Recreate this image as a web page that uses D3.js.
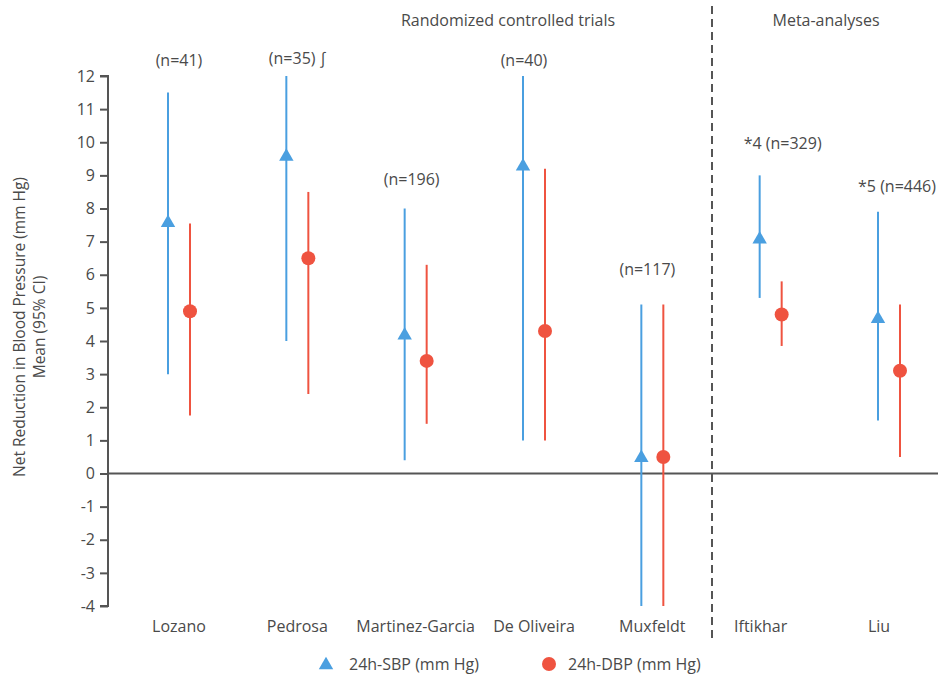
<!DOCTYPE html>
<html>
<head>
<meta charset="utf-8">
<script src="https://cdn.jsdelivr.net/npm/d3@7"></script>
<style>
  body { margin: 0; background: #fff; }
  svg text { font-family: "Open Sans", "Noto Sans", sans-serif; fill: #4a4a4a; }
</style>
</head>
<body>
<div id="chart"></div>
<script>
// Data
const studies = ['Lozano', 'Pedrosa', 'Martinez-Garcia', 'De Oliveira', 'Muxfeldt', 'Iftikhar', 'Liu'];
const sbpMean = [7.6, 9.6, 4.2, 9.3, 0.5, 7.1, 4.7];
const sbpLow  = [3.0, 4.0, 0.4, 1.0, -4.0, 5.3, 1.6];
const sbpHigh = [11.5, 12.0, 8.0, 12.0, 5.1, 9.0, 7.9];
const dbpMean = [4.9, 6.5, 3.4, 4.3, 0.5, 4.8, 3.1];
const dbpLow  = [1.75, 2.4, 1.5, 1.0, -4.0, 3.85, 0.5];
const dbpHigh = [7.55, 8.5, 6.3, 9.2, 5.1, 5.8, 5.1];
const notes   = ['(n=41)', '(n=35) \u222B', '(n=196)', '(n=40)', '(n=117)', '*4 (n=329)', '*5 (n=446)'];
const noteAt  = [12.3, 12.35, 8.7, 12.3, 6.0, 9.8, 8.5];
const yTicks  = d3.range(-4, 13);

const width = 951, height = 683;
const margin = {top: 76, bottom: 77, left: 108, right: 13};

const svg = d3.select('#chart').append('svg')
    .attr('width', width)
    .attr('height', height);

const x = d3.scalePoint(studies, [179, 889]);
const y = d3.scaleLinear([-4, 12], [height - margin.bottom, margin.top]);

const blue = '#4a9fe0', red = '#ef5340', ink = '#555';
const off = 11; // horizontal offset of each series from category centre

// y axis (plain hyphen for negatives, as in the original)
const axisY = svg.append('g')
    .attr('transform', `translate(${margin.left},0)`)
    .call(d3.axisLeft(y).tickValues(yTicks).tickSize(8).tickPadding(5).tickFormat(d => String(d)));
axisY.select('.domain').attr('stroke', ink).attr('stroke-width', 2).attr('d', `M-8,${y(12)}H0V${y(-4)}H-8`);
axisY.selectAll('.tick line').attr('stroke', ink).attr('stroke-width', 2);
axisY.selectAll('.tick text').style('font-size', '16px').style('fill', '#4a4a4a');

// zero line
svg.append('line')
    .attr('x1', margin.left).attr('x2', 938)
    .attr('y1', y(0)).attr('y2', y(0))
    .attr('stroke', ink).attr('stroke-width', 2);

// divider between RCTs and meta-analyses
svg.append('line')
    .attr('x1', 712).attr('x2', 712)
    .attr('y1', 6).attr('y2', 642)
    .attr('stroke', ink).attr('stroke-width', 2)
    .attr('stroke-dasharray', '8,5');

// group headings
svg.append('text').attr('x', 508).attr('y', 26).attr('text-anchor', 'middle')
    .style('font-size', '16px').text('Randomized controlled trials');
svg.append('text').attr('x', 826).attr('y', 26).attr('text-anchor', 'middle')
    .style('font-size', '16px').text('Meta-analyses');

// y label
svg.append('text')
    .attr('transform', 'translate(25, 327) rotate(-90)')
    .attr('text-anchor', 'middle')
    .style('font-size', '15.5px')
    .selectAll('tspan')
    .data(['Net Reduction in Blood Pressure (mm Hg)', 'Mean (95% CI)'])
    .join('tspan')
    .attr('x', 0)
    .attr('dy', (d, i) => i ? '1.3em' : 0)
    .text(d => d);

// category labels
svg.append('g').selectAll('text')
    .data(studies)
    .join('text')
    .attr('x', (d, i) => x(d) + (i >= 5 ? -10 : 0))
    .attr('y', 632)
    .attr('text-anchor', 'middle')
    .style('font-size', '16px')
    .text(d => d);

// error bars
const bars = svg.append('g');
bars.selectAll('line.sbp')
    .data(studies)
    .join('line')
    .classed('sbp', true)
    .attr('x1', d => x(d) - off).attr('x2', d => x(d) - off)
    .attr('y1', (d, i) => y(sbpLow[i])).attr('y2', (d, i) => y(sbpHigh[i]))
    .attr('stroke', blue).attr('stroke-width', 2);
bars.selectAll('line.dbp')
    .data(studies)
    .join('line')
    .classed('dbp', true)
    .attr('x1', d => x(d) + off).attr('x2', d => x(d) + off)
    .attr('y1', (d, i) => y(dbpLow[i])).attr('y2', (d, i) => y(dbpHigh[i]))
    .attr('stroke', red).attr('stroke-width', 2);

// markers
const tri = d3.symbol(d3.symbolTriangle, 90);
bars.selectAll('path.sbp')
    .data(studies)
    .join('path')
    .classed('sbp', true)
    .attr('d', tri)
    .attr('transform', (d, i) => `translate(${x(d) - off},${y(sbpMean[i]) + 1})`)
    .attr('fill', blue);
bars.selectAll('circle.dbp')
    .data(studies)
    .join('circle')
    .classed('dbp', true)
    .attr('cx', d => x(d) + off)
    .attr('cy', (d, i) => y(dbpMean[i]))
    .attr('r', 7)
    .attr('fill', red);

// sample size notes
svg.append('g').selectAll('text')
    .data(studies)
    .join('text')
    .attr('x', (d, i) => x(d) + [0, 0, -4, -10, -5, 12, 8][i])
    .attr('y', (d, i) => y(noteAt[i]))
    .attr('text-anchor', 'middle')
    .style('font-size', '16px')
    .text((d, i) => notes[i]);

// legend
const legend = svg.append('g').attr('transform', 'translate(0, 664)');
legend.append('path').attr('d', tri).attr('transform', 'translate(326, 1)').attr('fill', blue);
legend.append('text').attr('x', 349).attr('y', 6).style('font-size', '16px').text('24h-SBP (mm Hg)');
legend.append('circle').attr('cx', 549).attr('cy', 0).attr('r', 7).attr('fill', red);
legend.append('text').attr('x', 568).attr('y', 6).style('font-size', '16px').text('24h-DBP (mm Hg)');
</script>
</body>
</html>
